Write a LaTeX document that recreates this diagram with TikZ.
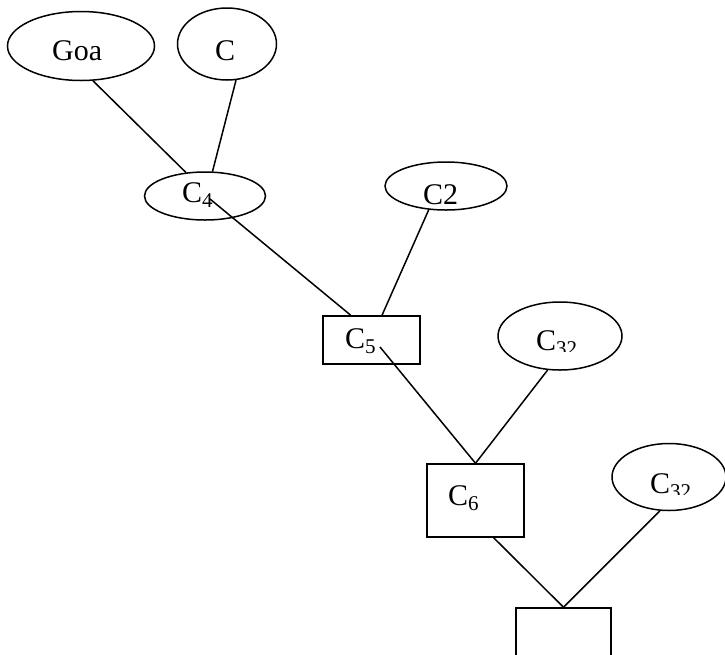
\documentclass[tikz,border=0pt]{standalone}
\usepackage{fontspec}
\setmainfont{Liberation Serif}
\usetikzlibrary{shapes.geometric,calc}
\tikzset{
  shp/.style={draw=black, line width=1.5pt, inner sep=0pt},
  ell/.style={shp, ellipse},
  box/.style={shp, rectangle},
  lbl/.style={anchor=base west, inner sep=0pt, font=\fontsize{30}{36}\selectfont},
  link/.style={draw=black, line width=1.5pt}
}
\begin{document}
\begin{tikzpicture}[x=1pt,y=-1pt]
\clip (0,0) rectangle (725,654);
\fill[white] (0,0) rectangle (725,654);
% shapes
\node[ell, minimum width=147pt, minimum height=69pt] (goa) at (81,46) {};
\node[ell, minimum width=99pt, minimum height=72pt] (c) at (227,44) {};
\node[ell, minimum width=121pt, minimum height=48pt] (c4) at (205,196) {};
\node[ell, minimum width=122pt, minimum height=48pt] (c2) at (446,186) {};
\node[box, minimum width=97pt, minimum height=48pt] (c5) at (371.5,340) {};
\node[ell, minimum width=124pt, minimum height=68pt] (c32a) at (560,336) {};
\node[box, minimum width=97pt, minimum height=73pt] (c6) at (475.5,500.5) {};
\node[ell, minimum width=114pt, minimum height=67pt] (c32b) at (669,477) {};
\node[box, minimum width=95pt, minimum height=60pt] (bot) at (563.5,638) {};
% labels
\node[lbl] (goat) at (52,60) {Goa};
\node[lbl] (ct) at (215,60) {C};
\node[lbl] (c4t) at (182,202) {C\textsubscript{4}};
\node[lbl] (c2t) at (423,204) {C2};
\node[lbl] (c5t) at (345,348) {C\textsubscript{5}};
\node[lbl] (c6t) at (448,505) {C\textsubscript{6}};
\begin{scope}
  \clip (530,310) rectangle (600,351);
  \node[lbl] (c32at) at (536,350) {C\textsubscript{32}};
\end{scope}
\begin{scope}
  \clip (644,453) rectangle (714,494);
  \node[lbl] (c32bt) at (650,493) {C\textsubscript{32}};
\end{scope}
% connectors
\draw[link] (goa.-71) -- (c4.129);
\draw[link] (c.-76) -- (c4.73);
\draw[link] ($(c4.center)+(5,3)$) -- (c5.130);
\draw[link] (c2.-126) -- (c5.67);
\draw[link] ($(c5.center)+(8.5,7)$) -- (c6.north);
\draw[link] (c32a.-110) -- (c6.north);
\draw[link] (c6.-64.4) -- (bot.north);
\draw[link] (c32b.-105.5) -- (bot.north);
\end{tikzpicture}
\end{document}
